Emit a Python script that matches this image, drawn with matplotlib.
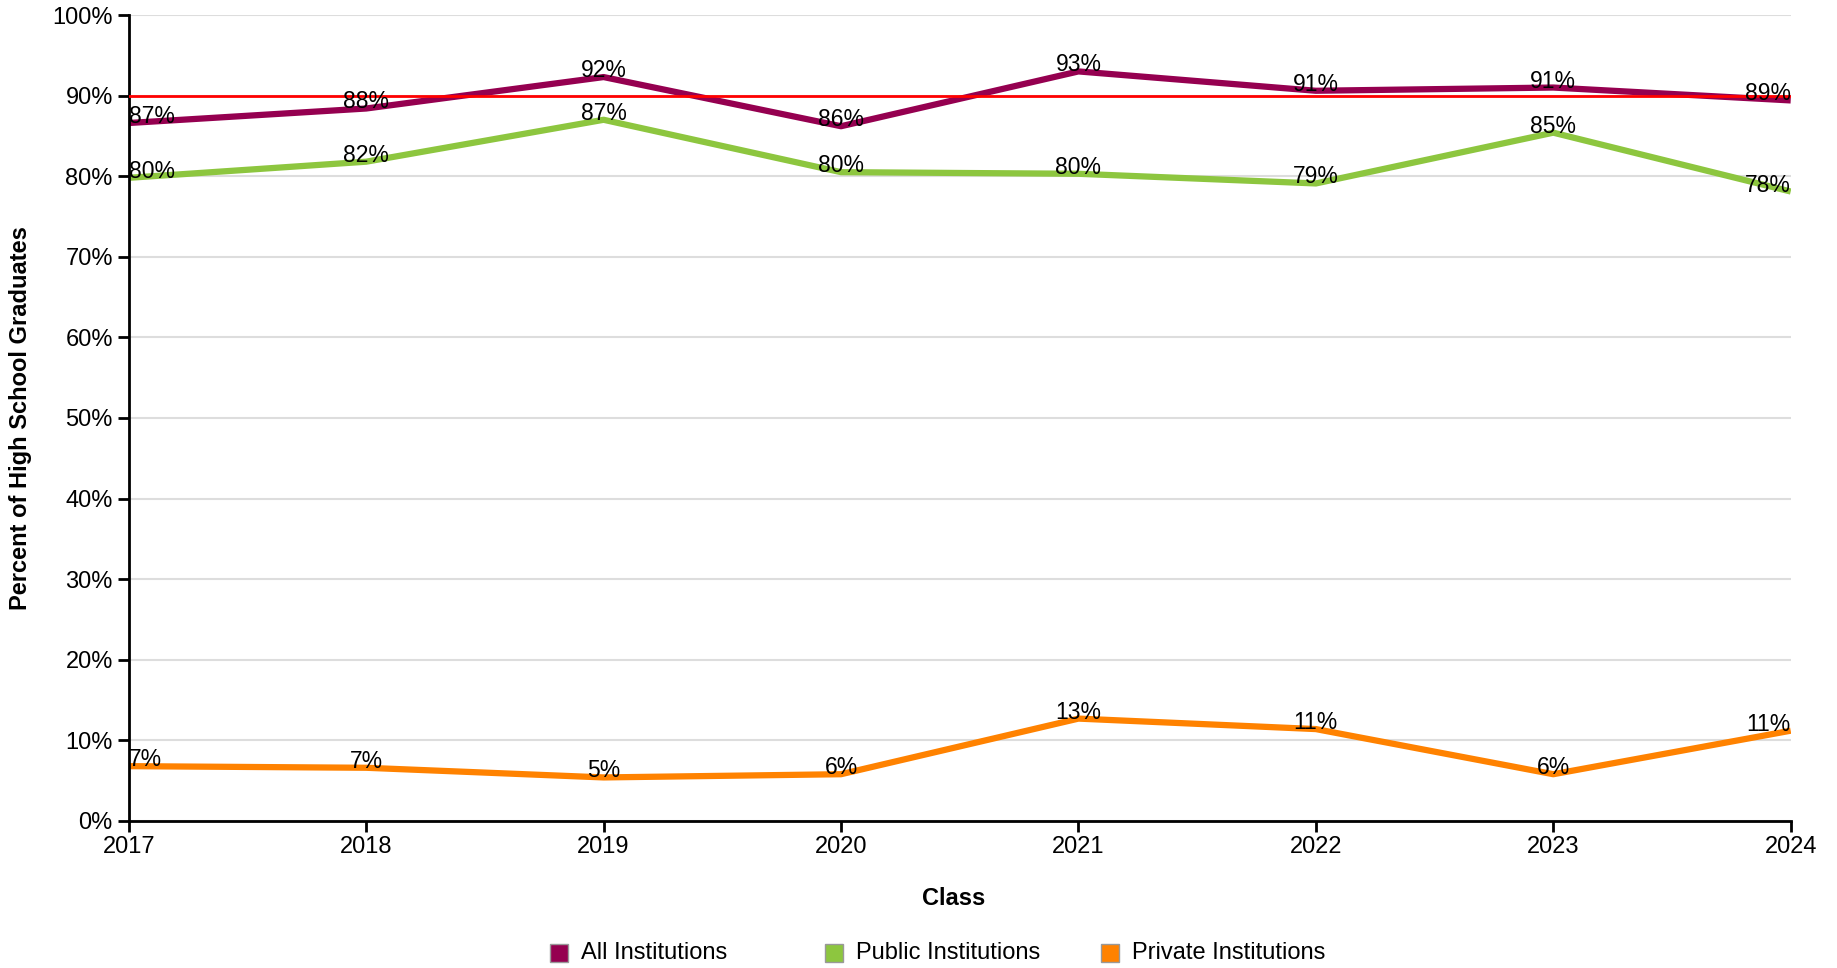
import matplotlib
matplotlib.use("Agg")
import matplotlib.pyplot as plt
from matplotlib.patches import Rectangle

plt.rcParams['font.family'] = ['Liberation Sans', 'DejaVu Sans']

# dados
years = [2017, 2018, 2019, 2020, 2021, 2022, 2023, 2024]
all_inst = [86.6, 88.4, 92.3, 86.2, 93.0, 90.6, 91.0, 89.4]
public_inst = [79.8, 81.8, 87.0, 80.5, 80.3, 79.1, 85.4, 78.1]
private_inst = [6.8, 6.6, 5.4, 5.8, 12.7, 11.4, 5.8, 11.2]
labels_all = ['87%', '88%', '92%', '86%', '93%', '91%', '91%', '89%']
labels_public = ['80%', '82%', '87%', '80%', '80%', '79%', '85%', '78%']
labels_private = ['7%', '7%', '5%', '6%', '13%', '11%', '6%', '11%']
series_names = ['All Institutions', 'Public Institutions', 'Private Institutions']
colors = ['#950050', '#8dc63f', '#ff8200']
target = 90

fig = plt.figure(figsize=(18.37, 9.68), dpi=100)
ax = fig.add_axes([0.0701, 0.1519, 0.9047, 0.8326])

for yv in range(0, 101, 10):
    ax.axhline(yv, color='#dddddd', linewidth=1.5, zorder=0)
ax.axhline(target, color='#ff0000', linewidth=2, zorder=3)

all_series = [all_inst, public_inst, private_inst]
all_labels = [labels_all, labels_public, labels_private]
for vals, labs, c in zip(all_series, all_labels, colors):
    ax.plot(years, vals, color=c, linewidth=4.5, zorder=2, solid_capstyle='butt')
    for i, (x, y, t) in enumerate(zip(years, vals, labs)):
        ha = 'center'
        if i == 0:
            ha = 'left'
        elif i == len(years) - 1:
            ha = 'right'
        ax.text(x, y, t, ha=ha, va='baseline', fontsize=16.5, color='black', zorder=4)

ax.set_xlim(2017, 2024)
ax.set_ylim(0, 100)
ax.set_xticks(years)
ax.set_yticks(range(0, 101, 10))
ax.set_yticklabels([f'{v}%' for v in range(0, 101, 10)])
ax.tick_params(axis='both', length=8, width=2, labelsize=17, color='black')
ax.tick_params(axis='x', pad=3)
for s in ['top', 'right']:
    ax.spines[s].set_visible(False)
for s in ['left', 'bottom']:
    ax.spines[s].set_linewidth(2)

fig.text(0.519, 0.0713, 'Class', ha='center', va='center', fontsize=17, fontweight='bold')
fig.text(0.0114, 0.568, 'Percent of High School Graduates', rotation=90,
         ha='center', va='center', fontsize=17, fontweight='bold')

# legenda manual, colunas de largura fixa
leg_x = [550, 825, 1101]
leg_y = 953
sq = 18
W, H = 1837, 968
for x0, c, name in zip(leg_x, colors, series_names):
    fig.patches.append(Rectangle((x0 / W, (H - leg_y - sq / 2) / H), sq / W, sq / H,
                                 facecolor=c, edgecolor='#999999', linewidth=1,
                                 transform=fig.transFigure, figure=fig))
    fig.text((x0 + 31) / W, (H - leg_y) / H, name, ha='left', va='center', fontsize=17)

fig.savefig('out.png', dpi=100)
